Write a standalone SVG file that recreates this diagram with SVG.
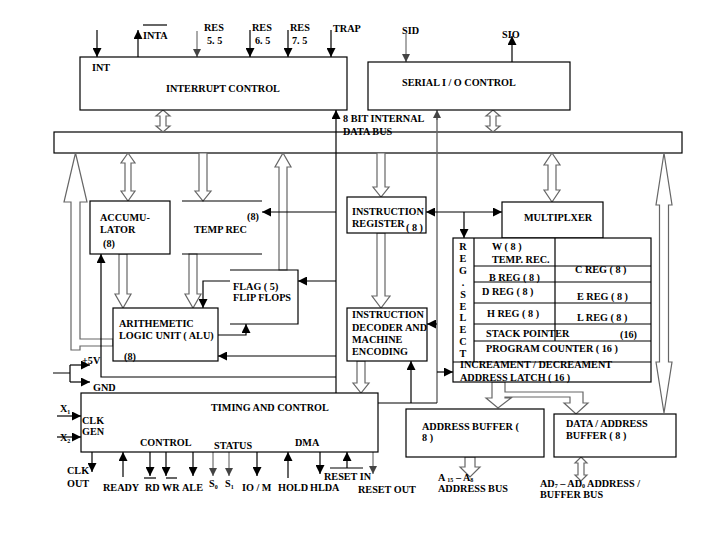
<svg xmlns="http://www.w3.org/2000/svg" width="720" height="540" viewBox="0 0 720 540">
<defs>
<marker id="ah" viewBox="0 0 10 10" refX="10" refY="5" markerWidth="9" markerHeight="9" markerUnits="userSpaceOnUse" orient="auto-start-reverse"><path d="M0,0 L10,5 L0,10 z" fill="#000"/></marker>
<marker id="ahg" viewBox="0 0 10 10" refX="10" refY="5" markerWidth="8" markerHeight="8" markerUnits="userSpaceOnUse" orient="auto-start-reverse"><path d="M0,0 L10,5 L0,10 z" fill="#444"/></marker>
</defs>
<style>
.t{font-family:"Liberation Serif","Times New Roman",serif;font-weight:bold;font-size:10.2px;fill:#000}
.box{fill:#fff;stroke:#000;stroke-width:1.2}
.ln{fill:none;stroke:#000;stroke-width:1.2}
.a{fill:none;stroke:#000;stroke-width:1.2;marker-end:url(#ah)}
.aa{fill:none;stroke:#000;stroke-width:1.2;marker-start:url(#ah);marker-end:url(#ah)}
.g{fill:none;stroke:#555;stroke-width:1;marker-end:url(#ahg)}
.gl{fill:none;stroke:#666;stroke-width:1.4}
.h{fill:#fff;stroke:#666;stroke-width:1.2}
</style>
<rect width="720" height="540" fill="#fff"/>

<g id="data-bus">
<rect class="box" x="54" y="132" width="628" height="21"/>
<text class="t" x="343" y="122">8 BIT INTERNAL</text>
<text class="t" x="343" y="135">DATA BUS</text>
</g>

<g id="connectors">
<path class="a" d="M97,30 V57"/>
<path class="a" d="M138,57 V30"/>
<path class="ln" d="M143,25 H167"/>
<path class="g" d="M197,31 V57"/>
<path class="a" d="M250,30 V57"/>
<path class="a" d="M288,30 V57"/>
<path class="a" d="M331,30 V57"/>
<path class="g" d="M406,34 V62"/>
<path class="a" d="M512,62 V36"/>
<polygon class="h" points="163,110 170,116 166,116 166,126 170,126 163,132 156,126 160,126 160,116 156,116"/>
<polygon class="h" points="493,110 500,116 496,116 496,126 500,126 493,132 486,126 490,126 490,116 486,116"/>
<path class="a" d="M336,393 V110"/>
<path class="gl" d="M437,403 V118"/>
<path class="g" d="M437,120 V110"/>
<path class="ln" d="M378,403 H437"/>
<path class="a" d="M411,403 V361"/>
<path class="a" d="M437,324 H427"/>
<path class="a" d="M437,372 H453"/>
<path class="aa" d="M426,212 H502"/>
<path class="a" d="M464,212 V238"/>
<polygon class="h" points="377,153 385,153 385,187 389,187 381,197 373,187 377,187"/>
<polygon class="h" points="377,233 385,233 385,296 390,296 381,308 372,296 377,296"/>
<polygon class="h" points="357,361 365,361 365,383 369,383 361,393 353,383 357,383"/>
<polygon class="h" points="552,153 560,165 556,165 556,190 560,190 552,202 544,190 548,190 548,165 544,165"/>
<polygon class="h" points="664,153 672,205 668.5,205 668.5,362 672,362 664,413 656,362 659.5,362 659.5,205 656,205"/>
<polygon class="h" points="492,382 505,382 505,392 583,392 583,403 588,403 576,414 564,403 570,403 570,397 505,397 505,398 511,398 498,408 486,398 492,398"/>
<polygon class="h" points="465,457 475,457 475,467 480,467 470,477 460,467 465,467"/>
<polygon class="h" points="581,457 587,463 584,463 584,475 587,475 581,481 575,475 578,475 578,463 575,463"/>
<polygon class="h" points="71,350 71,202 64,202 75.5,153 87,202 80,202 80,339 113,339 113,346 80,346 80,350"/>
<polygon class="h" points="128,153 135,163 131,163 131,191 135,191 128,201 121,191 125,191 125,163 121,163"/>
<polygon class="h" points="199,153 207,153 207,191 211,191 203,201 195,191 199,191"/>
<polygon class="h" points="279,270 287,270 287,167 291,167 283,153 275,167 279,167"/>
<polygon class="h" points="119,254 127,254 127,294 131,294 123,308 115,294 119,294"/>
<polygon class="h" points="189,254 197,254 197,294 201,294 193,308 185,294 189,294"/>
<path class="a" d="M336,212 H262"/>
<path class="a" d="M336,281 H298"/>
<path class="a" d="M230,281 H203 V308"/>
<path class="a" d="M218,335 H246 V324"/>
<path class="a" d="M336,356 H218"/>
<path class="a" d="M336,377 H101 V254"/>
<path class="ln" d="M53,373 H70 M70,365 V382"/>
<path class="a" d="M70,365 H90"/>
<path class="a" d="M70,382 H90"/>
<path class="a" d="M57,416 H81"/>
<path class="a" d="M57,437 H81"/>
<path class="a" d="M92,452 V472"/>
<path class="a" d="M123,477 V452"/>
<path class="a" d="M150,452 V476"/>
<path class="ln" d="M144,478 H156"/>
<path class="a" d="M166,452 V476"/>
<path class="ln" d="M166,478 H177"/>
<path class="a" d="M193,452 V476"/>
<path class="g" d="M213,452 V476"/>
<path class="g" d="M229,452 V476"/>
<path class="a" d="M257,452 V476"/>
<path class="a" d="M288,478 V452"/>
<path class="a" d="M320,452 V474"/>
<path class="a" d="M347,468 V452"/>
<path class="ln" d="M330,468 H363"/>
<path class="g" d="M373,452 V474"/>
</g>

<g id="interrupt-control">
<rect class="box" x="80" y="57" width="267" height="53"/>
<text class="t" x="92" y="71">INT</text>
<text class="t" x="166" y="92">INTERRUPT CONTROL</text>
<text class="t" x="143" y="39">INTA</text>
<text class="t" x="204" y="31">RES</text><text class="t" x="207" y="44">5. 5</text>
<text class="t" x="252" y="31">RES</text><text class="t" x="255" y="44">6. 5</text>
<text class="t" x="290" y="31">RES</text><text class="t" x="292" y="44">7. 5</text>
<text class="t" x="333" y="32">TRAP</text>
</g>

<g id="serial-io">
<rect class="box" x="368" y="62" width="202" height="48"/>
<text class="t" x="402" y="86">SERIAL I / O CONTROL</text>
<text class="t" x="402" y="34">SID</text>
<text class="t" x="502" y="38">SIO</text>
</g>

<g id="accumulator">
<rect class="box" x="90" y="201" width="80" height="53"/>
<text class="t" x="100" y="221">ACCUMU-</text>
<text class="t" x="100" y="233">LATOR</text>
<text class="t" x="103" y="247">(8)</text>
</g>

<g id="temp-reg">
<path class="ln" d="M182,201 H262 M182,254 H262"/>
<text class="t" x="247" y="220">(8)</text>
<text class="t" x="194" y="233">TEMP REC</text>
</g>

<g id="flag">
<path class="ln" d="M230,270 H298 V324 H230"/>
<text class="t" x="233" y="290">FLAG ( 5)</text>
<text class="t" x="233" y="301">FLIP FLOPS</text>
</g>

<g id="alu">
<rect class="box" x="113" y="308" width="105" height="53"/>
<text class="t" x="119" y="327">ARITHEMETIC</text>
<text class="t" x="119" y="339">LOGIC UNIT ( ALU)</text>
<text class="t" x="124" y="360">(8)</text>
</g>

<g id="instruction-register">
<rect class="box" x="347" y="197" width="79" height="36"/>
<text class="t" x="352" y="215">INSTRUCTION</text>
<text class="t" x="352" y="227">REGISTER</text>
<text class="t" x="406" y="231">( 8 )</text>
</g>

<g id="instruction-decoder">
<rect class="box" x="347" y="308" width="80" height="53"/>
<text class="t" x="352" y="318">INSTRUCTION</text>
<text class="t" x="352" y="331">DECODER AND</text>
<text class="t" x="352" y="343">MACHINE</text>
<text class="t" x="352" y="355">ENCODING</text>
</g>

<g id="multiplexer">
<rect class="box" x="502" y="202" width="101" height="36"/>
<text class="t" x="524" y="221">MULTIPLXER</text>
</g>

<g id="register-array">
<rect class="box" x="453" y="238" width="198" height="144"/>
<path class="ln" d="M474,238 V362 M453,362 H651 M555,238 V341 M474,266 H651 M474,282 H651 M474,303 H651 M474,324 H651 M474,341 H651"/>
<g class="t" text-anchor="middle">
<text x="463" y="250">R</text><text x="463" y="262">E</text><text x="463" y="274">G</text><text x="463" y="286">.</text><text x="463" y="298">S</text><text x="463" y="310">E</text><text x="463" y="321">L</text><text x="463" y="333">E</text><text x="463" y="345">C</text><text x="463" y="357">T</text>
</g>
<text class="t" x="492" y="250">W ( 8 )</text>
<text class="t" x="492" y="263">TEMP. REC.</text>
<text class="t" x="575" y="273">C REG ( 8 )</text>
<text class="t" x="489" y="281">B REG ( 8 )</text>
<text class="t" x="482" y="295">D REG ( 8 )</text>
<text class="t" x="577" y="300">E REG ( 8 )</text>
<text class="t" x="487" y="317">H REG ( 8 )</text>
<text class="t" x="577" y="321">L REG ( 8 )</text>
<text class="t" x="486" y="337">STACK POINTER</text>
<text class="t" x="620" y="338">(16)</text>
<text class="t" x="486" y="352">PROGRAM COUNTER ( 16 )</text>
<text class="t" x="460" y="368">INCREAMENT / DECREAMENT</text>
<text class="t" x="460" y="381">ADDRESS LATCH ( 16 )</text>
</g>

<g id="timing-control">
<rect class="box" x="81" y="393" width="297" height="59"/>
<text class="t" x="211" y="411">TIMING AND CONTROL</text>
<text class="t" x="82" y="424">CLK</text>
<text class="t" x="82" y="435">GEN</text>
<text class="t" x="140" y="446">CONTROL</text>
<text class="t" x="214" y="449">STATUS</text>
<text class="t" x="295" y="446">DMA</text>
<text class="t" x="82" y="364">+5V</text>
<text class="t" x="93" y="391">GND</text>
<text class="t" x="60" y="412">X<tspan font-size="6" dy="2">1</tspan></text>
<text class="t" x="60" y="441">X<tspan font-size="6" dy="2">2</tspan></text>
<text class="t" x="67" y="474">CLK</text>
<text class="t" x="67" y="487">OUT</text>
<text class="t" x="103" y="491">READY</text>
<text class="t" x="145" y="491">RD</text>
<text class="t" x="162" y="491">WR</text>
<text class="t" x="182" y="491">ALE</text>
<text class="t" x="209" y="487">S<tspan font-size="6" dy="2">0</tspan></text>
<text class="t" x="225" y="487">S<tspan font-size="6" dy="2">1</tspan></text>
<text class="t" x="242" y="491">IO / M</text>
<text class="t" x="278" y="491">HOLD</text>
<text class="t" x="310" y="491">HLDA</text>
<text class="t" x="324" y="480">RESET IN</text>
<text class="t" x="358" y="493">RESET OUT</text>
</g>

<g id="address-buffer">
<rect class="box" x="406" y="409" width="138" height="48"/>
<text class="t" x="422" y="430">ADDRESS BUFFER (</text>
<text class="t" x="422" y="441">8 )</text>
<text class="t" x="438" y="481">A <tspan font-size="6" dy="1">15</tspan><tspan dy="-1"> – A</tspan><tspan font-size="6" dy="1">8</tspan></text>
<text class="t" x="438" y="492">ADDRESS BUS</text>
</g>

<g id="data-address-buffer">
<rect class="box" x="554" y="414" width="122" height="43"/>
<text class="t" x="566" y="427">DATA / ADDRESS</text>
<text class="t" x="566" y="439">BUFFER ( 8 )</text>
<text class="t" x="540" y="487">AD<tspan font-size="6" dy="1">7</tspan><tspan dy="-1"> – AD</tspan><tspan font-size="6" dy="1">0</tspan><tspan dy="-1"> ADDRESS /</tspan></text>
<text class="t" x="540" y="498">BUFFER BUS</text>
</g>
</svg>
